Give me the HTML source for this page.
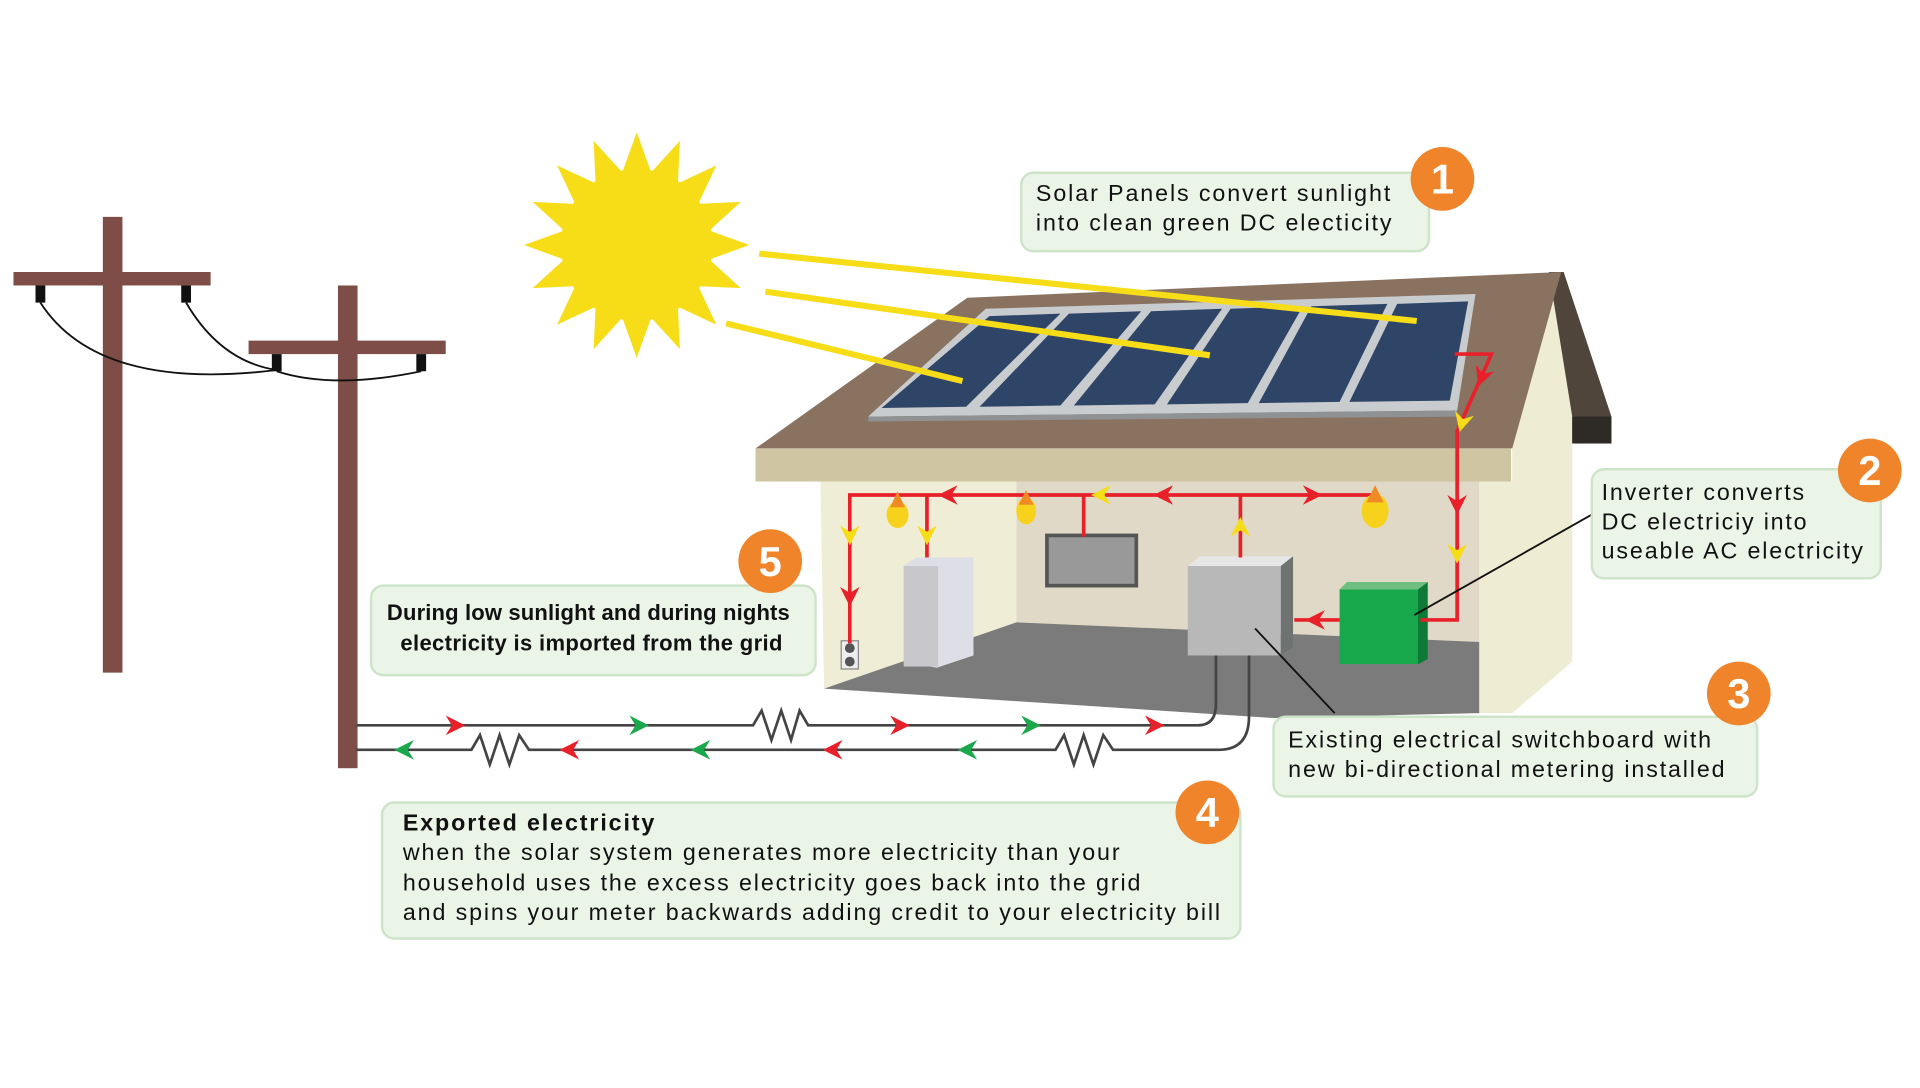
<!DOCTYPE html>
<html><head><meta charset="utf-8"><style>html,body{margin:0;padding:0;background:#fff}svg{display:block}text{font-family:"Liberation Sans",sans-serif}</style></head><body>
<svg width="1920" height="1088" viewBox="0 0 1568 888" preserveAspectRatio="none" xmlns="http://www.w3.org/2000/svg">
<defs>
<path id="ah" d="M8,0 L-8,-8 L-3,0 L-8,8Z"/>
<path id="ray" d="M-13,-56 L0,-92 L13,-56Z"/>
</defs>
<rect width="1568" height="888" fill="#fff"/>
<!-- poles -->
<g fill="#7f4d47">
<rect x="84" y="177" width="16" height="372"/><rect x="11" y="222" width="161" height="11"/>
<rect x="276" y="233" width="16" height="394"/><rect x="203" y="278" width="161" height="11"/>
</g>
<g fill="#111"><rect x="29" y="233" width="8" height="14"/><rect x="148" y="233" width="8" height="14"/><rect x="222" y="289" width="8" height="14"/><rect x="340" y="289" width="8" height="14"/></g>
<g fill="none" stroke="#111" stroke-width="1.5">
<path d="M33,247 Q80,320 226,302"/><path d="M152,247 Q180,295 226,302"/><path d="M226,303 Q272,318 344,303"/>
</g>
<!-- sun -->
<g transform="translate(520,200)" fill="#f6dd18">
<circle r="62"/>
<use href="#ray" transform="rotate(0)"/><use href="#ray" transform="rotate(22.5)"/><use href="#ray" transform="rotate(45)"/><use href="#ray" transform="rotate(67.5)"/><use href="#ray" transform="rotate(90)"/><use href="#ray" transform="rotate(112.5)"/><use href="#ray" transform="rotate(135)"/><use href="#ray" transform="rotate(157.5)"/><use href="#ray" transform="rotate(180)"/><use href="#ray" transform="rotate(202.5)"/><use href="#ray" transform="rotate(225)"/><use href="#ray" transform="rotate(247.5)"/><use href="#ray" transform="rotate(270)"/><use href="#ray" transform="rotate(292.5)"/><use href="#ray" transform="rotate(315)"/><use href="#ray" transform="rotate(337.5)"/>
</g>
<!-- house right wall & gable -->
<polygon points="1235,300 1268,232 1284,330 1284,540 1235,582 1208,582 1208,392 1235,392" fill="#eeecd2"/>
<polygon points="1265,222 1277,222 1316,340 1316,362 1284,362 1284,340" fill="#4f453b"/>
<rect x="1284" y="340" width="32" height="22" fill="#2e2a26"/>
<!-- interior -->
<rect x="830" y="392" width="378" height="135" fill="#e0d9c7"/>
<polygon points="670,392 830,392 830,510 673,562" fill="#efedd6"/>
<polygon points="673,562 830,508 1208,524 1208,582 1040,586" fill="#7b7b7b"/>
<!-- roof -->
<polygon points="617,366 790,243 1275,222 1235,366" fill="#8a7261"/>
<rect x="617" y="366" width="617" height="27" fill="#cfc5a3"/>
<!-- panels -->
<polygon points="709,340 805,252 1205,240 1190,335" fill="#c9cccf"/>
<polygon points="709,340 1190,335 1190,340 709,344" fill="#8f9193"/>
<g fill="#2f4567">
<polygon points="720,333 808,258 866,256 789,332"/>
<polygon points="800,332 873,256 932,254 866,331"/>
<polygon points="877,331 940,254 998,252 943,330"/>
<polygon points="953,330 1005,252 1064,250 1019,329"/>
<polygon points="1028,329 1071,250 1133,248 1094,328"/>
<polygon points="1102,328 1141,248 1199,246 1184,327"/>
</g>
<!-- sun beams -->
<g stroke="#f6dd18" stroke-width="5"><line x1="620" y1="207" x2="1157" y2="262"/><line x1="625" y1="238" x2="988" y2="290"/><line x1="593" y1="264" x2="786" y2="311"/></g>
<!-- appliances -->
<rect x="855" y="437" width="73" height="41" fill="#999" stroke="#555" stroke-width="3"/>
<polygon points="738,462 748,455 795,455 795,535 765,545 738,540" fill="#dedee6"/>
<rect x="738" y="462" width="28" height="82" fill="#c8c8cc"/>
<rect x="687" y="523" width="14" height="23" fill="#eee" stroke="#888"/>
<circle cx="694" cy="529" r="4" fill="#555"/><circle cx="694" cy="540" r="4" fill="#555"/>
<polygon points="970,462 980,454 1056,454 1046,462" fill="#e6e6e6"/>
<rect x="970" y="462" width="76" height="73" fill="#b8b8b8"/>
<polygon points="1046,462 1056,454 1056,528 1046,535" fill="#6e7270"/>
<rect x="1094" y="481" width="64" height="61" fill="#16a84a"/>
<polygon points="1094,481 1100,475 1166,475 1158,481" fill="#6fbf80"/>
<polygon points="1158,481 1166,475 1166,538 1158,542" fill="#0d7a35"/>
<!-- red wiring -->
<g fill="none" stroke="#e8202a" stroke-width="3">
<polyline points="1188,289 1218,289 1190,352 1190,506 1160,506"/>
<line x1="1094" y1="506" x2="1057" y2="506"/>
<line x1="1013" y1="455" x2="1013" y2="404"/>
<polyline points="1123,404 694,404 694,525"/>
<line x1="757" y1="404" x2="757" y2="455"/>
<line x1="885" y1="404" x2="885" y2="438"/>
</g>
<g fill="#e8202a">
<use href="#ah" transform="translate(1210,308) rotate(110)"/>
<use href="#ah" transform="translate(1190,412) rotate(90)"/>
<use href="#ah" transform="translate(1074,506) rotate(180)"/>
<use href="#ah" transform="translate(1072,404) rotate(0)"/>
<use href="#ah" transform="translate(950,404) rotate(180)"/>
<use href="#ah" transform="translate(774,404) rotate(180)"/>
<use href="#ah" transform="translate(694,487) rotate(90)"/>
</g>
<g fill="#f6dd18">
<use href="#ah" transform="translate(1194,345) rotate(105)"/>
<use href="#ah" transform="translate(1190,452) rotate(90)"/>
<use href="#ah" transform="translate(1013,430) rotate(-90)"/>
<use href="#ah" transform="translate(899,404) rotate(180)"/>
<use href="#ah" transform="translate(694,437) rotate(90)"/>
<use href="#ah" transform="translate(757,437) rotate(90)"/>
</g>
<!-- bulbs -->
<g><ellipse cx="733" cy="420" rx="9" ry="11" fill="#f7d21c"/><path d="M727,414 L733,401 L739,414Z" fill="#f08a24"/>
<ellipse cx="838" cy="417" rx="8" ry="11" fill="#f7d21c"/><path d="M832,412 L838,400 L844,412Z" fill="#f08a24"/>
<ellipse cx="1123" cy="417" rx="11" ry="14" fill="#f7d21c"/><path d="M1116,410 L1123,396 L1130,410Z" fill="#f08a24"/></g>
<!-- grid lines -->
<g fill="none" stroke="#444" stroke-width="2.2">
<path d="M291,592 L615,592 L622,580 L630,604 L638,580 L646,604 L653,580 L660,592 L978,592 Q993,592 993,575 L993,535"/>
<path d="M291,612 L385,612 L392,600 L400,624 L408,600 L416,624 L424,600 L432,612 L862,612 L869,600 L877,624 L885,600 L893,624 L901,600 L909,612 L995,612 Q1020,612 1020,585 L1020,535"/>
</g>
<g fill="#e8202a"><use href="#ah" transform="translate(372,592)"/><use href="#ah" transform="translate(735,592)"/><use href="#ah" transform="translate(943,592)"/>
<use href="#ah" transform="translate(465,612) rotate(180)"/><use href="#ah" transform="translate(680,612) rotate(180)"/></g>
<g fill="#1aa84a"><use href="#ah" transform="translate(522,592)"/><use href="#ah" transform="translate(842,592)"/>
<use href="#ah" transform="translate(330,612) rotate(180)"/><use href="#ah" transform="translate(572,612) rotate(180)"/><use href="#ah" transform="translate(790,612) rotate(180)"/></g>
<!-- leaders -->
<g stroke="#111" stroke-width="1.5"><line x1="1300" y1="420" x2="1155" y2="502"/><line x1="1090" y1="582" x2="1025" y2="513"/></g>
<!-- callouts -->
<g fill="#eaf5e8" stroke="#cde4c9" stroke-width="2">
<rect x="834" y="141" width="333" height="64" rx="10"/>
<rect x="1300" y="383" width="236" height="89" rx="10"/>
<rect x="1040" y="585" width="395" height="65" rx="10"/>
<rect x="312" y="655" width="701" height="111" rx="10"/>
<rect x="303" y="478" width="363" height="73" rx="10"/>
</g>
<g fill="#111" font-size="19" letter-spacing="0.6">
<text x="846" y="164" textLength="290">Solar Panels convert sunlight</text>
<text x="846" y="188" textLength="291">into clean green DC electicity</text>
<text x="1308" y="408" textLength="166">Inverter converts</text>
<text x="1308" y="432" textLength="168">DC electriciy into</text>
<text x="1308" y="456" textLength="214">useable AC electricity</text>
<text x="1052" y="610" textLength="346">Existing electrical switchboard with</text>
<text x="1052" y="634" textLength="357">new bi-directional metering installed</text>
<text x="329" y="678" font-weight="bold" textLength="206">Exported electricity</text>
<text x="329" y="702" textLength="586">when the solar system generates more electricity than your</text>
<text x="329" y="727" textLength="603">household uses the excess electricity goes back into the grid</text>
<text x="329" y="751" textLength="668">and spins your meter backwards adding credit to your electricity bill</text>
<text x="316" y="506" font-weight="bold" font-size="18" letter-spacing="0" textLength="329">During low sunlight and during nights</text>
<text x="327" y="531" font-weight="bold" font-size="18" letter-spacing="0" textLength="312">electricity is imported from the grid</text>
</g>
<!-- badges -->
<g fill="#f0842a"><circle cx="1178" cy="146" r="26"/><circle cx="1527" cy="384" r="26"/><circle cx="1420" cy="566" r="26"/><circle cx="986" cy="663" r="26"/><circle cx="629" cy="458" r="26"/></g>
<g fill="#fff" font-size="34" font-weight="bold" text-anchor="middle">
<text x="1178" y="158">1</text><text x="1527" y="396">2</text><text x="1420" y="578">3</text><text x="986" y="675">4</text><text x="629" y="470">5</text>
</g>
</svg>
</body></html>
